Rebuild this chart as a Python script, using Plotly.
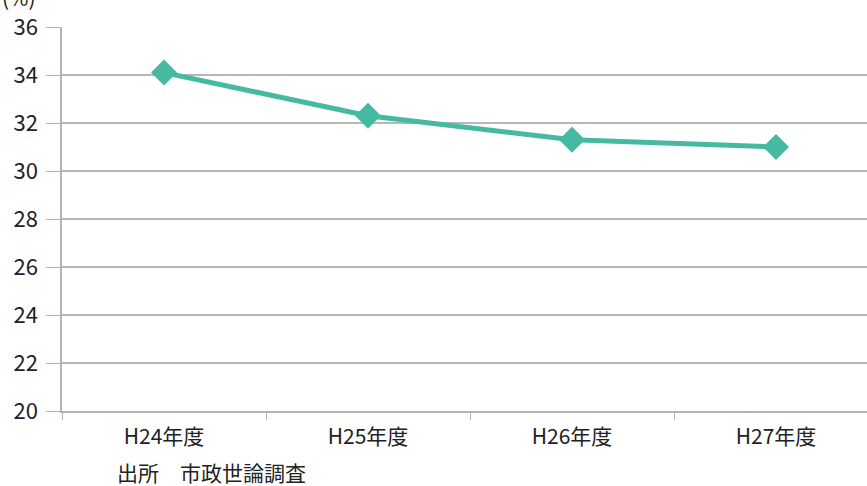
import plotly.graph_objects as go

categories = ["H24年度", "H25年度", "H26年度", "H27年度"]
values = [34.1, 32.3, 31.3, 31.0]
y_ticks = [20, 22, 24, 26, 28, 30, 32, 34, 36]

FONT = "Noto Sans CJK JP"
COLOR = "#45B9A1"

fig = go.Figure()
fig.add_trace(go.Scatter(
    x=categories, y=values, mode="lines+markers",
    line=dict(color=COLOR, width=5),
    marker=dict(symbol="diamond", size=20, color=COLOR),
    showlegend=False, hoverinfo="x+y",
))

fig.update_layout(
    width=867, height=486,
    margin=dict(l=62, r=0, t=27, b=75),
    paper_bgcolor="white", plot_bgcolor="white",
    font=dict(family=FONT, size=18, color="#222222"),
    xaxis=dict(
        type="category", range=[-0.5, 3.446],
        tickson="boundaries", ticks="outside", ticklen=7,
        tickcolor="#b3b3b3", showgrid=False,
        showline=True, linecolor="#b3b3b3", linewidth=1.5,
        ticklabelstandoff=6,
        tickfont=dict(size=21, family=FONT, color="#222222"),
    ),
    yaxis=dict(
        range=[20, 36], tickvals=y_ticks, ticks="outside", ticklen=14,
        tickcolor="#b3b3b3", showgrid=True, gridcolor="#b8b8b8", gridwidth=1.5,
        showline=True, linecolor="#b3b3b3", linewidth=1.5, zeroline=False,
        ticklabelstandoff=4,
        tickfont=dict(size=22, family=FONT, color="#222222"),
    ),
    annotations=[
        dict(text="出所　市政世論調査", xref="paper", yref="paper",
             x=(115 - 62) / 805, y=-(472 - 411) / 384, xanchor="left", yanchor="middle",
             showarrow=False, font=dict(size=21, family=FONT, color="#222222")),
        dict(text="(%)", xref="paper", yref="paper",
             x=-62 / 805, y=1 + 30 / 384, xanchor="left", yanchor="middle",
             showarrow=False, font=dict(size=21, family=FONT, color="#222222")),
    ],
)

fig.write_html("out.html", post_script="document.body.style.margin='0';",
               config={"displayModeBar": False})
